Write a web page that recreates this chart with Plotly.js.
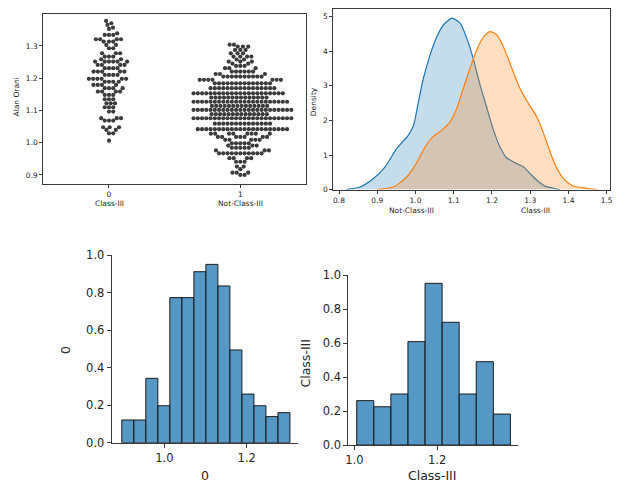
<!DOCTYPE html>
<html>
<head>
<meta charset="utf-8">
<script src="https://cdn.plot.ly/plotly-3.0.1.min.js"></script>
<style>html,body{margin:0;padding:0;background:#fff;}#chart{width:625px;height:484px;}</style>
</head>
<body>
<div id="chart"></div>
<script>
// ---------------- DATA ----------------
// Swarm plot: "Alan Orani" values, frequency tables (value, count)
const class3Values = [1.0064,1.029,1.0395,1.048,1.0685,1.076,1.0964,1.110,1.122,1.1347,1.148,1.1584,1.169,1.179,1.189,1.198,1.210,1.2204,1.231,1.241,1.2514,1.2587,1.267,1.2773,1.2928,1.303,1.3134,1.3207,1.334,1.339,1.3527,1.3567,1.365,1.3704,1.3775];
const class3Counts = [1,2,2,3,3,3,2,3,3,3,3,4,4,4,4,6,4,5,4,4,6,2,3,3,2,2,3,4,3,1,1,1,1,1,1];

const notValues = [0.900,0.907,0.918,0.926,0.941,0.952,0.967,0.976,0.984,0.991,0.998,1.009,1.018,1.028,1.042,1.059,1.0758,1.0886,1.1015,1.114,1.127,1.140,1.153,1.169,1.184,1.195,1.205,1.213,1.2204,1.231,1.238,1.245,1.2514,1.258,1.267,1.277,1.2876,1.298,1.304];
const notCounts = [2,3,1,2,3,4,11,3,5,3,5,5,7,8,22,14,24,14,24,14,23,14,22,16,14,7,10,3,6,3,3,2,3,2,4,3,3,3,2];

const swarmCategories = [0, 1];
const swarmTickText = ['0', '1'];
const swarmGroupNames = ['Class-III', 'Not-Class-III'];

// KDE curves (Density)
const kdeNotX = [0.818,0.855,0.890,0.920,0.951,0.981,0.995,1.0076,1.0207,1.038,1.0557,1.073,1.095,1.117,1.134,1.152,1.169,1.187,1.204,1.221,1.238,1.26,1.282,1.30,1.3175,1.339,1.361,1.378];
const kdeNotY = [0.0,0.075,0.32,0.65,1.19,1.57,1.86,2.54,3.22,3.89,4.42,4.76,4.96,4.81,4.38,3.75,3.02,2.35,1.72,1.23,0.92,0.78,0.66,0.46,0.27,0.10,0.04,0.0];
const kdeC3X = [0.899,0.942,0.973,0.999,1.025,1.047,1.069,1.0906,1.108,1.125,1.1427,1.160,1.178,1.195,1.213,1.230,1.252,1.273,1.2955,1.3175,1.335,1.352,1.37,1.387,1.409,1.44,1.475];
const kdeC3Y = [0.0,0.075,0.32,0.70,1.23,1.545,1.72,1.96,2.35,2.93,3.51,4.04,4.42,4.57,4.47,4.13,3.51,2.93,2.49,2.10,1.62,1.09,0.61,0.32,0.12,0.05,0.0];
const kdeXLabels = ['Not-Class-III', 'Class-III'];

// Histogram "0" (Not-Class-III)
const histNotStart = 0.8965;
const histNotBinWidth = 0.02918;
const histNotHeights = [0.121,0.121,0.343,0.197,0.773,0.773,0.911,0.95,0.835,0.494,0.259,0.197,0.139,0.16];
// Histogram "Class-III"
const histC3Start = 1.0058;
const histC3BinWidth = 0.04124;
const histC3Heights = [0.261,0.225,0.30,0.608,0.951,0.722,0.30,0.49,0.182];

// ---------------- HELPERS ----------------
function expand(values, counts) {
  const out = [];
  values.forEach((v, i) => { for (let k = 0; k < counts[i]; k++) out.push(v); });
  return out;
}
function swarmOffsets(vals, pxPerY, d) {
  const order = vals.map((v, i) => i).sort((a, b) => vals[a] - vals[b]);
  const placed = [];
  const off = new Array(vals.length);
  for (const i of order) {
    const y = vals[i] * pxPerY;
    const nb = placed.filter(p => Math.abs(p.y - y) < d);
    const cands = [0];
    nb.forEach(p => {
      const dx = Math.sqrt(d * d - (p.y - y) * (p.y - y));
      cands.push(p.x + dx, p.x - dx);
    });
    cands.sort((a, b) => Math.abs(a) - Math.abs(b));
    let chosen = 0;
    for (const c of cands) {
      if (nb.every(p => (p.x - c) * (p.x - c) + (p.y - y) * (p.y - y) >= d * d - 1e-6)) { chosen = c; break; }
    }
    placed.push({ x: chosen, y: y });
    off[i] = chosen;
  }
  return off;
}
function binCenters(start, w, n) {
  const c = [];
  for (let i = 0; i < n; i++) c.push(start + w * (i + 0.5));
  return c;
}

// ---------------- LAYOUT GEOMETRY ----------------
const W = 625, H = 484;
const px = (x) => x / W;
const py = (y) => 1 - y / H;

const tl = { x0: 43.3, x1: 306, y0: 14, y1: 184, xr: [-0.5, 1.5], yr: [0.872, 1.399] };
const pxPerX = (tl.x1 - tl.x0) / (tl.xr[1] - tl.xr[0]);
const pxPerY = (tl.y1 - tl.y0) / (tl.yr[1] - tl.yr[0]);
const dotD = 4.25;

const groups = [expand(class3Values, class3Counts), expand(notValues, notCounts)];
const swarmTraces = groups.map((vals, g) => {
  const off = swarmOffsets(vals, pxPerY, dotD);
  return {
    type: 'scatter', mode: 'markers', xaxis: 'x', yaxis: 'y',
    x: off.map(o => swarmCategories[g] + o / pxPerX), y: vals,
    marker: { size: 4.2, color: '#3b3b3b', line: { width: 0 } },
    hoverinfo: 'skip'
  };
});

const blue = '#1f77b4', orange = '#ff7f0e';
const kdeTraces = [
  { type: 'scatter', mode: 'lines', xaxis: 'x2', yaxis: 'y2', x: kdeNotX, y: kdeNotY, line: { color: blue, width: 1.2, shape: 'spline', smoothing: 0.6 }, fill: 'tozeroy', fillcolor: 'rgba(31,119,180,0.26)' },
  { type: 'scatter', mode: 'lines', xaxis: 'x2', yaxis: 'y2', x: kdeC3X, y: kdeC3Y, line: { color: orange, width: 1.2, shape: 'spline', smoothing: 0.6 }, fill: 'tozeroy', fillcolor: 'rgba(255,127,14,0.26)' }
];

const barStyle = { color: 'rgba(31,119,180,0.76)', line: { color: '#1c1c1c', width: 1 } };
const histTraces = [
  { type: 'bar', xaxis: 'x3', yaxis: 'y3', x: binCenters(histNotStart, histNotBinWidth, histNotHeights.length), y: histNotHeights, width: histNotBinWidth, marker: barStyle },
  { type: 'bar', xaxis: 'x4', yaxis: 'y4', x: binCenters(histC3Start, histC3BinWidth, histC3Heights.length), y: histC3Heights, width: histC3BinWidth, marker: barStyle }
];

const font = 'DejaVu Sans, sans-serif';
const txt = '#262626';
const lineC = '#3a3a3a';
function ax(extra) {
  return Object.assign({
    showgrid: false, zeroline: false, showline: true, linecolor: lineC, linewidth: 1,
    ticks: 'outside', tickcolor: lineC, tickwidth: 1, fixedrange: true
  }, extra);
}
const fmt1 = v => v.toFixed(1);
const tlY = [0.9, 1.0, 1.1, 1.2, 1.3];
const trX = [0.8, 0.9, 1.0, 1.1, 1.2, 1.3, 1.4, 1.5];
const trY = [0, 1, 2, 3, 4, 5];
const botY = [0, 0.2, 0.4, 0.6, 0.8, 1.0];
const botX = [1.0, 1.2];

const smallF = { family: font, size: 7.5, color: txt };
const bigF = { family: font, size: 11.5, color: txt };
const labF = { family: font, size: 12.5, color: txt };

const layout = {
  width: W, height: H, margin: { l: 0, r: 0, t: 0, b: 0 },
  paper_bgcolor: '#fff', plot_bgcolor: '#fff', showlegend: false, bargap: 0,
  font: { family: font },
  xaxis: ax({ domain: [px(tl.x0), px(tl.x1)], range: tl.xr, anchor: 'y', mirror: true, tickvals: swarmCategories, ticktext: swarmTickText, ticklen: 3, tickfont: smallF }),
  yaxis: ax({ domain: [py(tl.y1), py(tl.y0)], range: tl.yr, anchor: 'x', mirror: true, tickvals: tlY, ticktext: tlY.map(fmt1), ticklen: 3, tickfont: smallF }),
  xaxis2: ax({ domain: [px(333.3), px(610)], range: [0.785, 1.5087], anchor: 'y2', mirror: true, tickvals: trX, ticktext: trX.map(fmt1), ticklen: 3, tickfont: smallF }),
  yaxis2: ax({ domain: [py(189.6), py(9.3)], range: [0, 5.214], anchor: 'x2', mirror: true, tickvals: trY, ticktext: trY.map(String), ticklen: 3, tickfont: smallF }),
  xaxis3: ax({ domain: [px(111.7), px(298.3)], range: [0.872, 1.3253], anchor: 'y3', tickvals: botX, ticktext: botX.map(fmt1), ticklen: 4, tickfont: bigF }),
  yaxis3: ax({ domain: [py(442.7), py(255)], range: [0, 1.0], anchor: 'x3', tickvals: botY, ticktext: botY.map(fmt1), ticklen: 4, tickfont: bigF }),
  xaxis4: ax({ domain: [px(348.3), px(518.3)], range: [0.9855, 1.396], anchor: 'y4', tickvals: botX, ticktext: botX.map(fmt1), ticklen: 4, tickfont: bigF }),
  yaxis4: ax({ domain: [py(445), py(275)], range: [0, 1.0], anchor: 'x4', tickvals: botY, ticktext: botY.map(fmt1), ticklen: 4, tickfont: bigF }),
  annotations: [
    { text: swarmGroupNames[0], x: px(109.3), y: py(204), xref: 'paper', yref: 'paper', showarrow: false, font: smallF, xanchor: 'center', yanchor: 'middle' },
    { text: swarmGroupNames[1], x: px(240), y: py(204), xref: 'paper', yref: 'paper', showarrow: false, font: smallF, xanchor: 'center', yanchor: 'middle' },
    { text: 'Alan Orani', x: px(16.5), y: py(97), xref: 'paper', yref: 'paper', showarrow: false, font: smallF, textangle: -90, xanchor: 'center', yanchor: 'middle' },
    { text: 'Density', x: px(313.5), y: py(101.7), xref: 'paper', yref: 'paper', showarrow: false, font: smallF, textangle: -90, xanchor: 'center', yanchor: 'middle' },
    { text: kdeXLabels[0], x: px(411.7), y: py(210.7), xref: 'paper', yref: 'paper', showarrow: false, font: smallF, xanchor: 'center', yanchor: 'middle' },
    { text: kdeXLabels[1], x: px(535), y: py(210.7), xref: 'paper', yref: 'paper', showarrow: false, font: smallF, xanchor: 'center', yanchor: 'middle' },
    { text: '0', x: px(65), y: py(350), xref: 'paper', yref: 'paper', showarrow: false, font: labF, textangle: -90, xanchor: 'center', yanchor: 'middle' },
    { text: '0', x: px(205), y: py(483.5), xref: 'paper', yref: 'paper', showarrow: false, font: labF, xanchor: 'center', yanchor: 'bottom', borderpad: 0 },
    { text: 'Class-III', x: px(305), y: py(363.5), xref: 'paper', yref: 'paper', showarrow: false, font: labF, textangle: -90, xanchor: 'center', yanchor: 'middle' },
    { text: 'Class-III', x: px(432), y: py(466), xref: 'paper', yref: 'paper', showarrow: false, font: labF, xanchor: 'center', yanchor: 'top' }
  ]
};

Plotly.newPlot('chart', [...swarmTraces, ...kdeTraces, ...histTraces], layout, { staticPlot: true, displayModeBar: false });
</script>
</body>
</html>
